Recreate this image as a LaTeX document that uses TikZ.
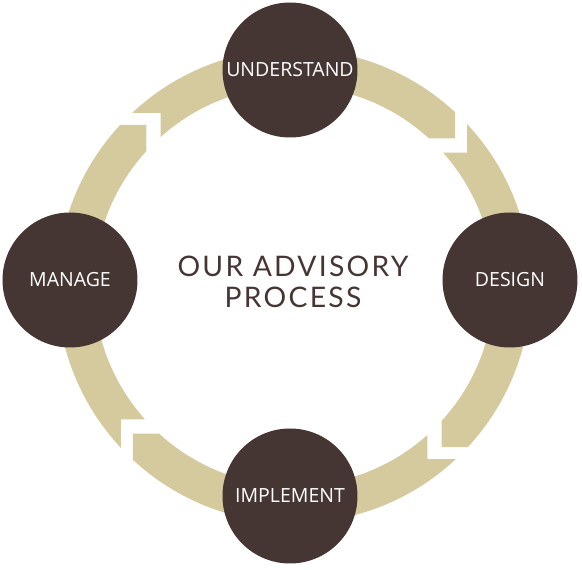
\documentclass[tikz,border=0pt]{standalone}
\usepackage{fontspec}
\setmainfont{Lato}
\newfontfamily\stagefont{Open Sans}
\definecolor{ringtan}{HTML}{D5CA9E}
\definecolor{darkbrown}{HTML}{453634}

\begin{document}
\begin{tikzpicture}[x=1pt, y=1pt]
            \tikzstyle{stage}=[circle,fill=darkbrown,text=white,minimum size=135pt,inner sep=0pt,font=\stagefont\fontsize{19.5}{22}\selectfont]
            \tikzstyle{title}=[align=center,text=darkbrown,font=\fontsize{28.3}{31}\selectfont\addfontfeature{LetterSpace=8}]
            \tikzstyle{piece}=[fill=ringtan]

            \useasboundingbox (-294,-284) rectangle (288,286);

            % one arrow of the ring, turned round four times
            \foreach \a in {0,90,180,270} {
                \begin{scope}[rotate=\a]
                    \fill[piece] (43.08:237) arc[start angle=43.08, end angle=-42.83, radius=237]
                        -- (-47.5:218.5) -- (-42.44:200)
                        arc[start angle=-42.44, end angle=41.8, radius=200]
                        -- (37.6:218.5) -- cycle;
                \end{scope}
            }

            \node[stage] (understand) at (-4,216) {UNDERSTAND};
            \node[stage] (design) at (216,6) {DESIGN};
            \node[stage] (implement) at (-4,-210) {IMPLEMENT};
            \node[stage] (manage) at (-224,6) {MANAGE};

            \node[title] (process) at (-1,4) {OUR ADVISORY\\PROCESS};
        \end{tikzpicture}
\end{document}
